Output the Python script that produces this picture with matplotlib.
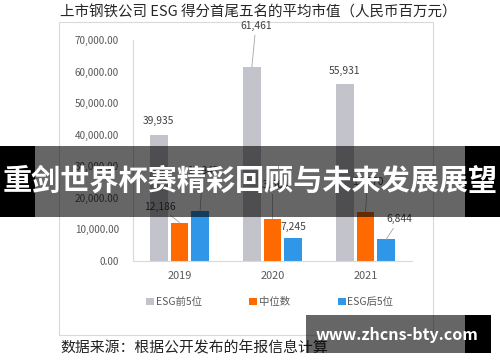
import matplotlib
matplotlib.use('Agg')
import matplotlib.pyplot as plt
from matplotlib.patches import Rectangle
import numpy as np

plt.rcParams['font.family'] = ['Noto Sans CJK SC', 'DejaVu Sans']

# ---- data ----
years = ['2019', '2020', '2021']
series_names = ['ESG前5位', '中位数', 'ESG后5位']
top5 = [39935, 61461, 55931]
median = [12186, 13364, 15370]
bottom5 = [15847, 7245, 6844]
yticks = [0, 10000, 20000, 30000, 40000, 50000, 60000, 70000]
title = '上市钢铁公司 ESG 得分首尾五名的平均市值（人民币百万元）'
source = '数据来源：根据公开发布的年报信息计算'
banner = '重剑世界杯赛精彩回顾与未来发展展望'
watermark = 'www.zhcns-bty.com'

# ---- styles ----
colors = ['#c3c3cc', '#ff6a00', '#2f96e8']
PX = 0.72  # px -> pt at 100 dpi
label_offsets = [
    [(0, 13.5), (4, 41), (0, 13)],
    [(-19.5, 15.7), (0, 34), (2, 30)],
    [(2.5, 40), (0.5, 11), (13, 20)],
]
leaders = [
    [False, True, False],
    [True, True, True],
    [True, False, True],
]

fig = plt.figure(figsize=(5, 3.62), dpi=100)
W, H = 500, 362

# outer chart frame
fig.add_artist(Rectangle((59 / W, 1 - 335 / H), (433 - 59) / W, (335 - 22) / H,
                         transform=fig.transFigure, fill=False,
                         edgecolor='#d9d9d9', lw=0.8, zorder=0))

ax = fig.add_axes([133 / W, 1 - 261 / H, 279 / W, 221 / H])
x = np.arange(len(years))
w = 0.19
off = 0.222
all_series = [top5, median, bottom5]
for i, (vals, c, name) in enumerate(zip(all_series, colors, series_names)):
    xs = x + (i - 1) * off
    ax.bar(xs, vals, width=w, color=c, label=name, zorder=2)
    for j, (xx, v) in enumerate(zip(xs, vals)):
        dx, dy = label_offsets[i][j]
        ap = dict(arrowstyle='-', color='#a6a6a6', lw=0.6, shrinkA=1, shrinkB=0) if leaders[i][j] else None
        ax.annotate(f'{v:,}', xy=(xx, v), xytext=(dx * PX, dy * PX),
                    textcoords='offset points', ha='center', va='center',
                    fontsize=7.4, color='#404040', arrowprops=ap, zorder=3)

ax.set_xlim(-0.5, 2.5)
ax.set_ylim(0, 70000)
ax.set_xticks(x)
ax.set_xticklabels(years)
ax.set_yticks(yticks)
ax.set_yticklabels([f'{t:,.2f}' for t in yticks])
ax.tick_params(axis='y', length=0, pad=10, labelsize=7.2, labelcolor='#595959')
ax.tick_params(axis='x', length=0, pad=7, labelsize=7.9, labelcolor='#595959')
for s in ['top', 'right']:
    ax.spines[s].set_visible(False)
for s in ['left', 'bottom']:
    ax.spines[s].set_color('#d9d9d9')
    ax.spines[s].set_linewidth(0.8)

leg = ax.legend(loc='center', bbox_to_anchor=(0.49, (261 - 302) / 221), ncol=3,
                frameon=False, fontsize=7.5, handlelength=0.75, handleheight=0.75,
                handletextpad=0.15, columnspacing=4.6, borderaxespad=0)
for t in leg.get_texts():
    t.set_color('#595959')

# title & source
fig.text(60 / W, 1 - 13 / H, title, ha='left', va='center', fontsize=10.45, color='#262626')
fig.text(60 / W, 1 - 348 / H, source, ha='left', va='center', fontsize=10.7, color='#222222')

# banner overlay
by0, by1 = 1 - 217 / H, 1 - 146 / H
fig.add_artist(Rectangle((0, by0), 35 / W, by1 - by0, transform=fig.transFigure,
                         facecolor='black', edgecolor='none', zorder=10))
fig.add_artist(Rectangle((465 / W, by0), 35 / W, by1 - by0, transform=fig.transFigure,
                         facecolor='black', edgecolor='none', zorder=10))
fig.add_artist(Rectangle((35 / W, by0), 430 / W, by1 - by0, transform=fig.transFigure,
                         facecolor='black', alpha=0.6, edgecolor='none', zorder=10))
fig.text(0.5, 1 - 181 / H, banner, ha='center', va='center', fontsize=21,
         fontweight='bold', color='white', zorder=11)

# watermark box
wy0, wy1 = 1 - 353 / H, 1 - 315 / H
fig.add_artist(Rectangle((306 / W, wy0), (465 - 306) / W, wy1 - wy0, transform=fig.transFigure,
                         facecolor='black', alpha=0.6, edgecolor='none', zorder=10))
fig.add_artist(Rectangle((465 / W, wy0), (491 - 465) / W, wy1 - wy0, transform=fig.transFigure,
                         facecolor='black', edgecolor='none', zorder=10))
fig.text(397 / W, 1 - 335 / H, watermark, ha='center', va='center', fontsize=11.5,
         fontweight='bold', color='white', zorder=11)

fig.savefig('out.png', dpi=100)
